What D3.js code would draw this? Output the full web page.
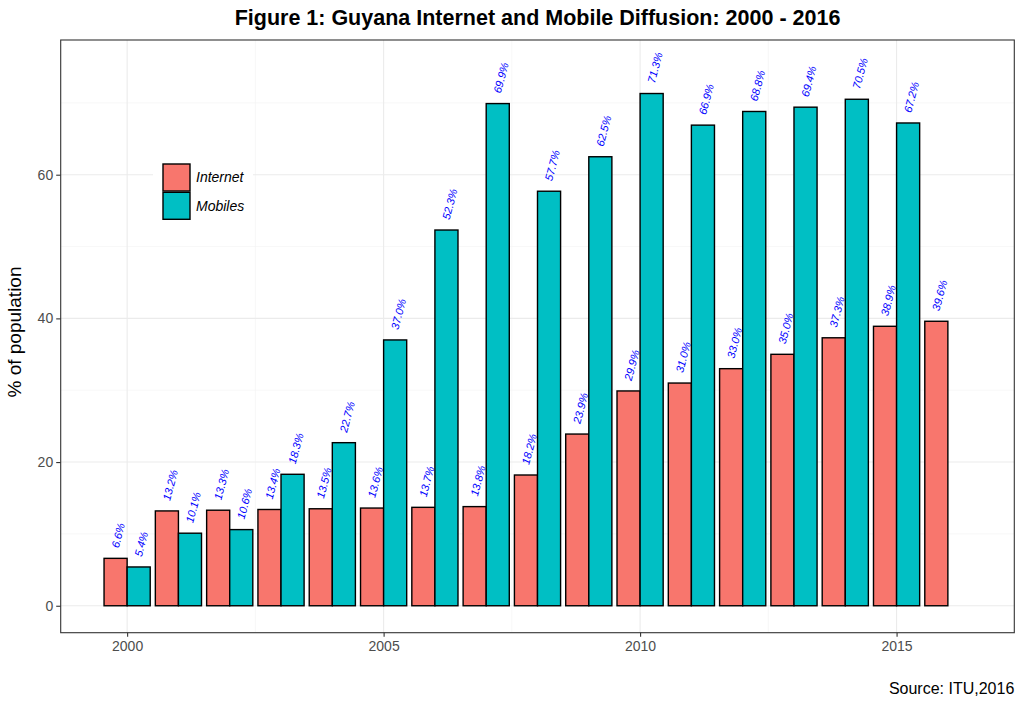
<!DOCTYPE html>
<html><head><meta charset="utf-8">
<script src="https://cdn.jsdelivr.net/npm/d3@7"></script>
<style>body{margin:0;background:#fff;font-family:"Liberation Sans",Arial,Helvetica,sans-serif;}</style>
</head><body><svg id="c" width="1024" height="706"></svg>
<script>
const years = [2000,2001,2002,2003,2004,2005,2006,2007,2008,2009,2010,2011,2012,2013,2014,2015,2016];
const internet = [6.6,13.2,13.3,13.4,13.5,13.6,13.7,13.8,18.2,23.9,29.9,31.0,33.0,35.0,37.3,38.9,39.6];
const mobiles = [5.4,10.1,10.6,18.3,22.7,37.0,52.3,69.9,57.7,62.5,71.3,66.9,68.8,69.4,70.5,67.2,null];
const seriesNames = ["Internet","Mobiles"];
const seriesColors = ["#F8766D","#00BFC4"];
const yTicks = [0,20,40,60];
const yMinor = [10,30,50,70];
const xTicks = [2000,2005,2010,2015];
const xMinor = [2002.5,2007.5,2012.5];

const svg = d3.select("#c");
const L = 60.7, R = 1014.3, T = 40, B = 632.7;
const x = d3.scaleLinear().domain([1998.705, 2017.295]).range([L, R]);
const y = d3.scaleLinear().domain([-3.75, 78.75]).range([B, T]);
const bw = 0.45;

svg.append("rect").attr("x",L).attr("y",T).attr("width",R-L).attr("height",B-T).attr("fill","#fff");
const g = svg.append("g");
yMinor.forEach(v=>g.append("line").attr("x1",L).attr("x2",R).attr("y1",y(v)).attr("y2",y(v)).attr("stroke","#F2F2F2").attr("stroke-width",0.6));
xMinor.forEach(v=>g.append("line").attr("y1",T).attr("y2",B).attr("x1",x(v)).attr("x2",x(v)).attr("stroke","#F2F2F2").attr("stroke-width",0.6));
yTicks.forEach(v=>g.append("line").attr("x1",L).attr("x2",R).attr("y1",y(v)).attr("y2",y(v)).attr("stroke","#EBEBEB").attr("stroke-width",1.1));
xTicks.forEach(v=>g.append("line").attr("y1",T).attr("y2",B).attr("x1",x(v)).attr("x2",x(v)).attr("stroke","#EBEBEB").attr("stroke-width",1.1));

const data = [];
years.forEach((yr,i)=>{
  [internet[i], mobiles[i]].forEach((v,s)=>{
    if (v==null) return;
    data.push({yr, v, s, cx: yr + (s===0 ? -bw/2 : bw/2)});
  });
});

g.selectAll("rect.bar").data(data).enter().append("rect")
  .attr("class","bar")
  .attr("x",d=>x(d.cx - bw/2)).attr("width",d=>x(d.cx+bw/2)-x(d.cx-bw/2))
  .attr("y",d=>y(d.v)).attr("height",d=>y(0)-y(d.v))
  .attr("fill",d=>seriesColors[d.s]).attr("stroke","#000").attr("stroke-width",1.4);

g.selectAll("text.lab").data(data).enter().append("text")
  .attr("class","lab")
  .attr("transform",d=>`translate(${x(d.cx)-2.5},${y(d.v)-4}) rotate(-75)`)
  .attr("dx",7).attr("dy","0.35em")
  .attr("fill","blue").attr("font-style","italic").attr("font-size",11)
  .text(d=>d.v.toFixed(1)+"%");

svg.append("rect").attr("x",L).attr("y",T).attr("width",R-L).attr("height",B-T).attr("fill","none").attr("stroke","#333").attr("stroke-width",1.1);

const yAxis = d3.axisLeft(y).tickValues(yTicks).tickSize(4.5).tickPadding(3);
const ya = svg.append("g").attr("transform",`translate(${L},0)`).call(yAxis);
const xAxis = d3.axisBottom(x).tickValues(xTicks).tickSize(4).tickPadding(4.5).tickFormat(d3.format("d"));
const xa = svg.append("g").attr("transform",`translate(0,${B})`).call(xAxis);
[ya,xa].forEach(a=>{
  a.select(".domain").remove();
  a.selectAll(".tick line").attr("stroke","#333").attr("stroke-width",1.1);
  a.selectAll(".tick text").attr("fill","#4D4D4D").attr("font-size",14).attr("font-family","Liberation Sans, Arial, sans-serif");
});

const lg = svg.append("g");
lg.append("rect").attr("x",153).attr("y",155).attr("width",100).attr("height",74).attr("fill","#fff");
seriesNames.forEach((n,i)=>{
  const ky = 164 + i*28.3;
  lg.append("rect").attr("x",163).attr("y",ky).attr("width",27).attr("height",27)
    .attr("fill",seriesColors[i]).attr("stroke","#000").attr("stroke-width",1.4);
  lg.append("text").attr("x",196).attr("y",ky+13.5).attr("dy","0.35em")
    .attr("font-size",14).attr("font-style","italic").attr("fill","#000").text(n);
});

svg.append("text").attr("x",(L+R)/2).attr("y",25).attr("text-anchor","middle")
  .attr("font-size",21.5).attr("font-weight","bold").attr("fill","#000")
  .text("Figure 1: Guyana Internet and Mobile Diffusion: 2000 - 2016");
svg.append("text").attr("transform",`translate(20.6,332) rotate(-90)`).attr("text-anchor","middle")
  .attr("font-size",19).attr("fill","#000").text("% of population");
svg.append("text").attr("x",R).attr("y",694).attr("text-anchor","end")
  .attr("font-size",16).attr("fill","#000").text("Source: ITU,2016");
</script></body></html>
